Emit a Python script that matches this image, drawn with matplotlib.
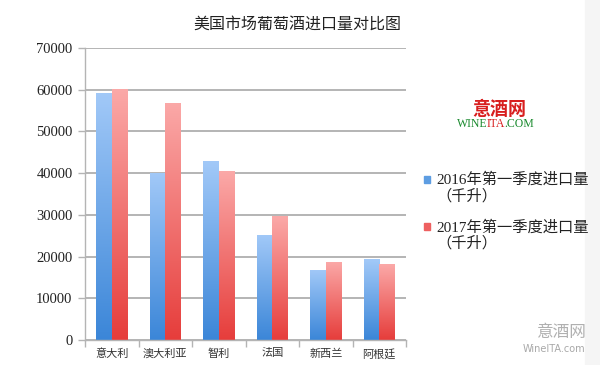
import numpy as np
import matplotlib
matplotlib.use('Agg')
import matplotlib.pyplot as plt
from matplotlib.colors import LinearSegmentedColormap
from matplotlib.patches import Rectangle

# 数据 (千升)
countries = ['意大利', '澳大利亚', '智利', '法国', '新西兰', '阿根廷']
q1_2016 = [59300, 40100, 42900, 25200, 16800, 19400]
q1_2017 = [60100, 56900, 40500, 29700, 18700, 18100]
label_2016 = '2016年第一季度进口量'
label_2017 = '2017年第一季度进口量'
unit_label = '（千升）'
yticks = [0, 10000, 20000, 30000, 40000, 50000, 60000, 70000]

CJK = ['Noto Sans CJK SC', 'DejaVu Sans']
SERIF_CJK = ['Liberation Serif', 'Noto Sans CJK SC']

BLUE_TOP, BLUE_BOT = '#a2c9f8', '#3b86d8'
RED_TOP, RED_BOT = '#fba9a8', '#e63d3b'
GRID = '#b4b4b4'


def gradient_bars(ax, bars, top, bottom):
    cmap = LinearSegmentedColormap.from_list('g', [bottom, top])
    grad = np.linspace(0, 1, 256).reshape(-1, 1)
    for b in bars:
        x, y = b.get_xy()
        w, h = b.get_width(), b.get_height()
        im = ax.imshow(grad, cmap=cmap, extent=[x, x + w, y, y + h],
                       origin='lower', aspect='auto', zorder=2)
        im.set_clip_path(b)
        b.set_facecolor('none')


fig = plt.figure(figsize=(6, 3.65), dpi=100)
ax = fig.add_axes([0.1417, 0.0685, 0.535, 0.80])

x = np.arange(len(countries))
w = 0.29
b16 = ax.bar(x - w / 2, q1_2016, w, color=BLUE_BOT, edgecolor='none', zorder=2)
b17 = ax.bar(x + w / 2, q1_2017, w, color=RED_BOT, edgecolor='none', zorder=2)
gradient_bars(ax, b16, BLUE_TOP, BLUE_BOT)
gradient_bars(ax, b17, RED_TOP, RED_BOT)

ax.set_xlim(-0.5, len(countries) - 0.5)
ax.set_ylim(0, 70000)
ax.set_yticks(yticks)
ax.set_yticklabels([str(v) for v in yticks], family='Liberation Serif',
                   fontsize=10.5, color='#222222')
ax.yaxis.grid(True, color=GRID, linewidth=1.4, zorder=0)
ax.set_axisbelow(True)

ax.set_xticks(x)
ax.set_xticklabels(countries, family=CJK, fontsize=8, color='#333333')
ax.set_xticks(np.arange(-0.5, len(countries)), minor=True)
ax.tick_params(axis='x', which='major', length=0, pad=6)
ax.tick_params(axis='x', which='minor', length=5, color=GRID, width=1)
ax.tick_params(axis='y', length=5, color=GRID, width=1, pad=4)

for s in ['top', 'right']:
    ax.spines[s].set_visible(False)
for s in ['left', 'bottom']:
    ax.spines[s].set_color(GRID)
    ax.spines[s].set_linewidth(1)

fig.text(0.495, 0.935, '美国市场葡萄酒进口量对比图', family=CJK, fontsize=11.5,
         color='#222222', ha='center', va='center')

# logo
fig.text(0.833, 0.700, '意酒网', family=['Liberation Serif', 'Noto Sans CJK SC'],
         fontsize=13, fontweight='bold', color='#d81e1e', ha='center', va='center')
logo_kw = dict(family='Liberation Serif', fontsize=8.5, va='center', ha='left')
t1 = fig.text(0.762, 0.660, 'WINE', color='#1a8a2e', **logo_kw)
t2 = ax.annotate('ITA', xy=(1, 0.5), xycoords=t1, xytext=(-0.8, 0),
                 textcoords='offset points', color='#d81e1e',
                 annotation_clip=False, **logo_kw)
ax.annotate('.COM', xy=(1, 0.5), xycoords=t2, xytext=(-0.8, 0),
            textcoords='offset points', color='#1a8a2e',
            annotation_clip=False, **logo_kw)

# legend
for yy, lab, col in [(0.507, label_2016, '#5d9de2'), (0.378, label_2017, '#ee6060')]:
    fig.patches.append(Rectangle((0.706, yy - 0.008), 0.011, 0.018,
                                 transform=fig.transFigure, color=col))
    fig.text(0.727, yy, lab, family=SERIF_CJK, fontsize=11,
             color='#222222', ha='left', va='center')
    fig.text(0.727, yy - 0.045, unit_label, family=SERIF_CJK, fontsize=11,
             color='#222222', ha='left', va='center')

# watermark
fig.patches.append(Rectangle((0.975, 0), 0.025, 1, transform=fig.transFigure,
                             color='#f5f5f5', zorder=-1))
fig.text(0.936, 0.088, '意酒网', family=CJK, fontsize=12, color='#b0b0b0',
         ha='center', va='center')
fig.text(0.924, 0.044, 'WineITA.com', family='DejaVu Sans', fontsize=7,
         color='#a8a8a8', ha='center', va='center')

fig.savefig('out.png', dpi=100)
